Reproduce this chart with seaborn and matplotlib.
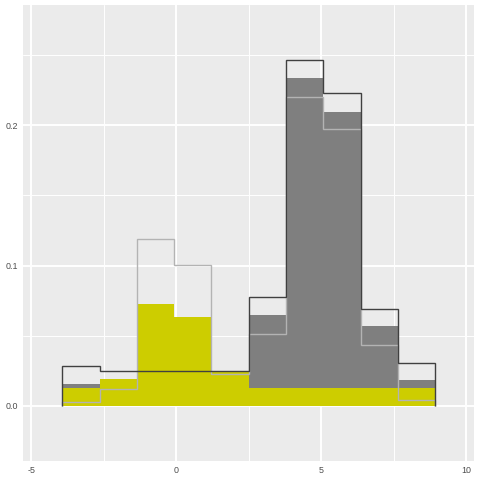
import numpy as np
import pandas as pd
import seaborn as sns
import matplotlib.pyplot as plt

# bin edges and bar heights (density)
edges = [-3.94, -2.65, -1.37, -0.08, 1.20, 2.49, 3.77, 5.06, 6.35, 7.63, 8.92]
grey_fill = [0.0155, 0.0129, 0.0129, 0.0129, 0.0129, 0.0648, 0.2336, 0.2098, 0.0568, 0.0183]
yellow_fill = [0.0127, 0.0190, 0.0725, 0.0632, 0.0252, 0.0128, 0.0128, 0.0128, 0.0128, 0.0128]
dark_outline = [0.0283, 0.0252, 0.0252, 0.0252, 0.0252, 0.0773, 0.2462, 0.2227, 0.0694, 0.0309]
light_outline = [0.0026, 0.0124, 0.1193, 0.1008, 0.0231, 0.0516, 0.2202, 0.1970, 0.0438, 0.0046]

centers = [(a + b) / 2 for a, b in zip(edges[:-1], edges[1:])]
df = pd.DataFrame({'x': centers, 'grey': grey_fill, 'yellow': yellow_fill,
                   'dark': dark_outline, 'light': light_outline})

sns.set_style('darkgrid', {'axes.facecolor': '#EBEBEB', 'grid.color': 'white'})
plt.rcParams['font.family'] = ['Liberation Sans', 'DejaVu Sans']

fig = plt.figure(figsize=(4.8, 4.8), dpi=100)
ax = fig.add_axes([23 / 480, 1 - 461 / 480, 451 / 480, 456 / 480])

# filled histograms
sns.histplot(data=df, x='x', weights='grey', bins=edges, element='step', fill=True,
             alpha=1, color='#7F7F7F', linewidth=0, edgecolor='none', ax=ax)
sns.histplot(data=df, x='x', weights='yellow', bins=edges, element='step', fill=True,
             alpha=1, color='#CDCD00', linewidth=0, edgecolor='none', ax=ax)
# outline histograms
ax.stairs(df['light'], edges, fill=False, baseline=0, color='#B3B3B3', linewidth=1.0)
ax.stairs(df['dark'], edges, fill=False, baseline=0, color='#404040', linewidth=1.0)

ax.set_xlim(-5.29, 10.26)
ax.set_ylim(-0.0392, 0.2857)
ax.set_xticks([-5, 0, 5, 10])
ax.set_xticklabels(['-5', '0', '5', '10'])
ax.set_yticks([0.0, 0.1, 0.2])
ax.set_yticklabels(['0.0', '0.1', '0.2'])
ax.set_xticks([-2.5, 2.5, 7.5], minor=True)
ax.set_yticks([0.05, 0.15, 0.25], minor=True)
ax.grid(which='major', color='white', linewidth=1.4)
ax.grid(which='minor', color='white', linewidth=0.7)
ax.set_axisbelow(True)
ax.set_xlabel('')
ax.set_ylabel('')
for s in ax.spines.values():
    s.set_visible(False)
ax.tick_params(which='major', length=2.0, width=0.8, color='#333333', pad=1.6,
               labelsize=6.4, labelcolor='#4D4D4D')
ax.tick_params(which='minor', length=0)

fig.savefig('out.png', dpi=100)
